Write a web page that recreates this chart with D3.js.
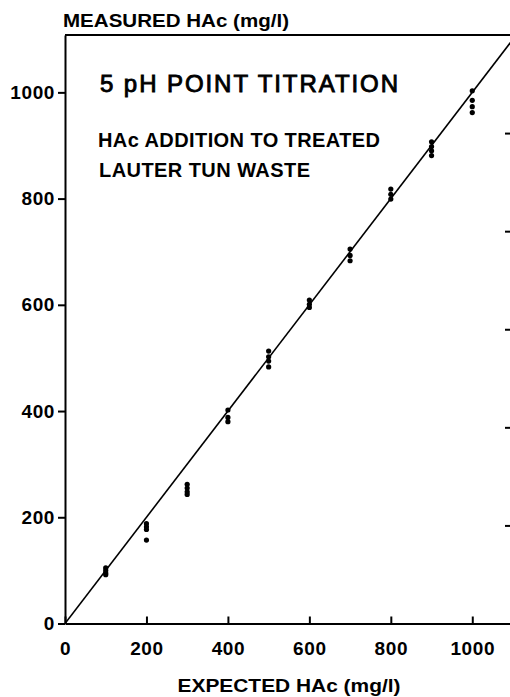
<!DOCTYPE html>
<html>
<head>
<meta charset="utf-8">
<script src="https://cdn.jsdelivr.net/npm/d3@7"></script>
<style>
  body { margin: 0; background: #fff; }
  text { font-family: "Liberation Sans", Arial, sans-serif; fill: #000; }
</style>
</head>
<body>
<script>
// expected HAc added (mg/l) and the replicate measurements at each level
let expected = [100, 200, 300, 400, 500, 600, 700, 800, 900, 1000];
let measured = [
    [105, 100, 95, 92],
    [188, 182, 177, 157],
    [262, 255, 248, 243],
    [402, 388, 380],
    [513, 502, 494, 483],
    [609, 601, 595],
    [705, 693, 683],
    [818, 808, 799],
    [907, 898, 890, 881],
    [1003, 985, 973, 962]
];
let xTicks = [0, 200, 400, 600, 800, 1000];
let yTicks = [0, 200, 400, 600, 800, 1000];
let rightTicks = [1, 2, 3, 4, 5];

let width = 510, height = 697;
let plotLeft = 65, plotRight = 513, plotTop = 35, plotBottom = 623.5;

let svg = d3.select('body').append('svg')
    .attr('width', width)
    .attr('height', height);

let x = d3.scaleLinear().domain([0, 1100]).range([plotLeft, plotRight]);
let y = d3.scaleLinear().domain([0, 1108]).range([plotBottom, plotTop]);
let yRight = d3.scaleLinear().domain([0, 6]).range([plotBottom, plotTop]);

svg.append('clipPath').attr('id', 'plot')
    .append('rect')
    .attr('x', plotLeft).attr('y', plotTop)
    .attr('width', plotRight - plotLeft).attr('height', plotBottom - plotTop);

// 1:1 line
let line = d3.line().x(d => x(d)).y(d => y(d));
svg.append('path')
    .datum([0, 1100])
    .attr('d', line)
    .attr('clip-path', 'url(#plot)')
    .attr('fill', 'none')
    .attr('stroke', '#000')
    .attr('stroke-width', 1.6);

// points
let points = [];
expected.forEach((e, i) => {
    measured[i].forEach(m => points.push({e: e, m: m}));
});
svg.append('g').selectAll('circle')
    .data(points)
    .enter().append('circle')
    .attr('cx', d => x(d.e))
    .attr('cy', d => y(d.m))
    .attr('r', 2.6)
    .attr('fill', '#000');

// axes
let fmt = d3.format('d');
let xAxis = svg.append('g')
    .attr('transform', `translate(0,${plotBottom})`)
    .call(d3.axisBottom(x).tickValues(xTicks).tickFormat(fmt)
        .tickSizeInner(-7).tickSizeOuter(0).tickPadding(18));
let yAxis = svg.append('g')
    .attr('transform', `translate(${plotLeft},0)`)
    .call(d3.axisLeft(y).tickValues(yTicks).tickFormat(fmt)
        .tickSizeInner(7).tickSizeOuter(0).tickPadding(3));
let rAxis = svg.append('g')
    .attr('transform', `translate(${plotRight},0)`)
    .call(d3.axisRight(yRight).tickValues(rightTicks).tickSize(-8).tickFormat(''));
rAxis.select('.domain').remove();

[xAxis, yAxis, rAxis].forEach(g => {
    g.selectAll('path, line').attr('stroke', '#000').attr('stroke-width', 2);
    g.selectAll('text')
        .style('font-family', '"Liberation Sans", Arial, sans-serif')
        .style('font-size', '19px')
        .style('font-weight', 'bold')
        .style('letter-spacing', '0.6px')
        .attr('fill', '#000');
});

// top border
svg.append('line')
    .attr('x1', plotLeft).attr('x2', plotRight)
    .attr('y1', plotTop).attr('y2', plotTop)
    .attr('stroke', '#000').attr('stroke-width', 2);

// texts
svg.append('text')
    .attr('x', 63).attr('y', 27)
    .attr('font-size', 18).attr('font-weight', 'bold')
    .attr('textLength', 226).attr('lengthAdjust', 'spacingAndGlyphs')
    .text('MEASURED HAc (mg/l)');

svg.append('text')
    .attr('x', (plotLeft + plotRight) / 2).attr('y', 692)
    .attr('text-anchor', 'middle')
    .attr('font-size', 18).attr('font-weight', 'bold')
    .attr('textLength', 223).attr('lengthAdjust', 'spacingAndGlyphs')
    .text('EXPECTED HAc (mg/l)');

svg.append('text')
    .attr('x', 100).attr('y', 92)
    .attr('font-size', 24)
    .attr('stroke', '#000').attr('stroke-width', 0.9)
    .attr('textLength', 298)
    .text('5 pH POINT TITRATION');

svg.append('text')
    .attr('x', 98).attr('y', 147)
    .attr('font-size', 20).attr('font-weight', 'bold')
    .attr('textLength', 282)
    .text('HAc ADDITION TO TREATED');

svg.append('text')
    .attr('x', 99).attr('y', 177)
    .attr('font-size', 20).attr('font-weight', 'bold')
    .attr('textLength', 211)
    .text('LAUTER TUN WASTE');
</script>
</body>
</html>
